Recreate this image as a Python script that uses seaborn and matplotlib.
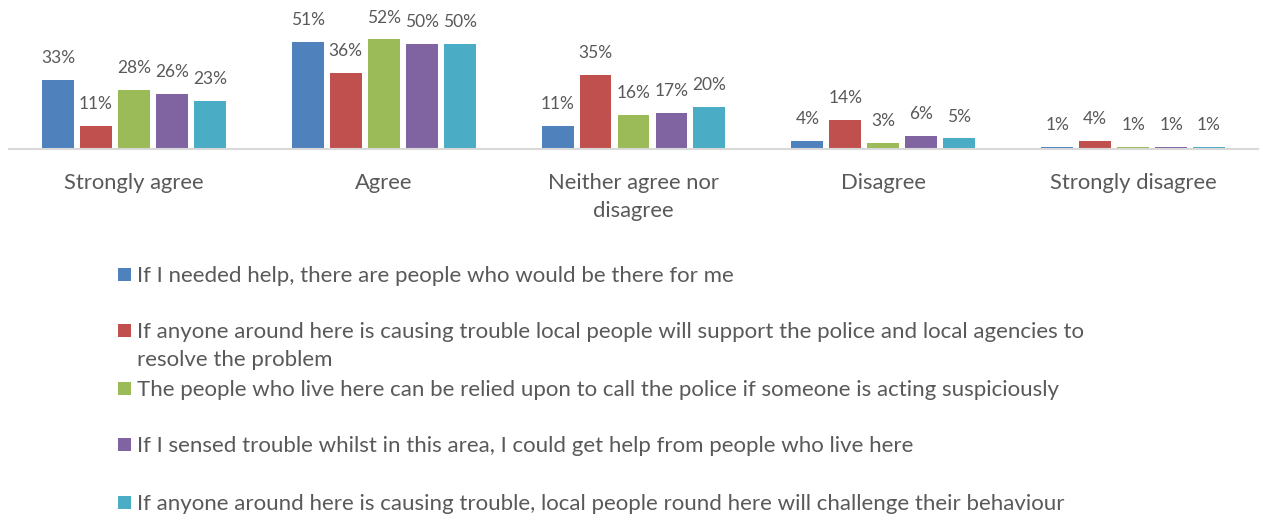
import matplotlib
matplotlib.use("Agg")
import matplotlib.pyplot as plt
import seaborn as sns
import pandas as pd
from matplotlib.patches import Rectangle

categories = ["Strongly agree", "Agree", "Neither agree nor disagree", "Disagree", "Strongly disagree"]
tick_labels = ["Strongly agree", "Agree", "Neither agree nor\ndisagree", "Disagree", "Strongly disagree"]
series = [
    "If I needed help, there are people who would be there for me",
    "If anyone around here is causing trouble local people will support the police and local agencies to\nresolve the problem",
    "The people who live here can be relied upon to call the police if someone is acting suspiciously",
    "If I sensed trouble whilst in this area, I could get help from people who live here",
    "If anyone around here is causing trouble, local people round here will challenge their behaviour",
]
needed_help = [33, 51, 11, 4, 1]
police_support = [11, 36, 35, 14, 4]
call_police = [28, 52, 16, 3, 1]
sensed_trouble = [26, 50, 17, 6, 1]
challenge = [23, 50, 20, 5, 1]
colors = ["#4F81BD", "#C0504D", "#9BBB59", "#8064A2", "#4BACC6"]

values = [needed_help, police_support, call_police, sensed_trouble, challenge]
rows = []
for s, vals in zip(series, values):
    for c, v in zip(categories, vals):
        rows.append({"category": c, "series": s, "value": v})
df = pd.DataFrame(rows)

sns.set_style("white")
plt.rcParams["font.family"] = ["Lato", "DejaVu Sans"]
text_color = "#595959"

W, H = 1262, 518
fig = plt.figure(figsize=(W / 100, H / 100), dpi=100)
ax = fig.add_axes([9 / W, 1 - 149 / H, (1258 - 9) / W, (149 - 10) / H])

sns.barplot(data=df, x="category", y="value", hue="series", order=categories,
            hue_order=series, palette=colors, width=0.76, ax=ax,
            legend=False, saturation=1, errorbar=None)

for container in ax.containers:
    for patch in container:
        w = patch.get_width()
        patch.set_x(patch.get_x() + w * 0.08)
        patch.set_width(w * 0.84)
        patch.set_edgecolor("none")
    labels = [f"{int(round(p.get_height()))}%" for p in container]
    ax.bar_label(container, labels=labels, padding=10, fontsize=12.5, color=text_color)

ax.set_ylim(0, 66)
ax.set_xlim(-0.5, 4.5)
ax.set_xlabel("")
ax.set_ylabel("")
ax.set_yticks([])
ax.set_xticks(range(len(categories)))
ax.set_xticklabels(tick_labels, fontsize=15.8, color=text_color, linespacing=1.5)
ax.tick_params(axis="x", length=0, pad=17)
for side in ["top", "left", "right"]:
    ax.spines[side].set_visible(False)
ax.spines["bottom"].set_color("#D9D9D9")
ax.spines["bottom"].set_linewidth(1.5)

# legend drawn below the chart, one row per statement
row_centers = [274, 330, 388, 444, 502]
line_gap = 28
for label, color, yc in zip(series, colors, row_centers):
    fig.patches.append(Rectangle((118 / W, 1 - (yc + 6.5) / H), 13 / W, 13 / H,
                                 transform=fig.transFigure, facecolor=color,
                                 edgecolor="none"))
    for k, line in enumerate(label.split("\n")):
        fig.text(137 / W, 1 - (yc + 8 + k * line_gap) / H, line, fontsize=16,
                 color=text_color, va="baseline", ha="left")

fig.savefig("out.png", dpi=100, facecolor="white")
